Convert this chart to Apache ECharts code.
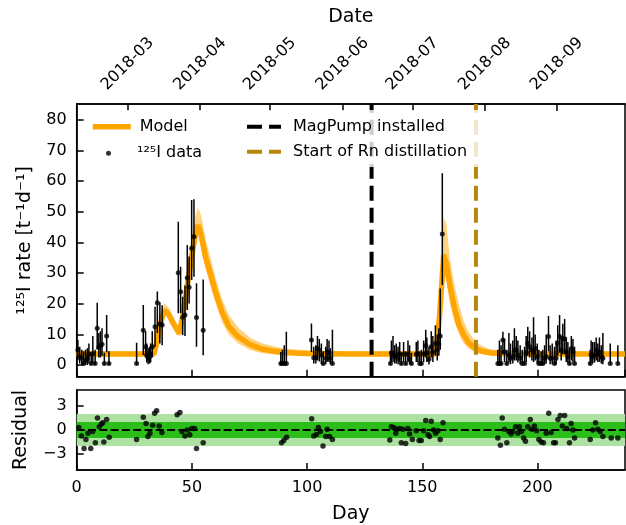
<!DOCTYPE html>
<html><head><meta charset="utf-8">
<script src="https://cdn.jsdelivr.net/npm/echarts@6/dist/echarts.min.js"></script>
<style>html,body{margin:0;padding:0;background:#fff}#c{width:626px;height:525px}</style>
</head><body><div id="c"></div>
<script>
// ---------- data ----------
const dayMin = 0, dayMax = 238;
const rateMin = -3.8, rateMax = 85.2;
const rateTicks = [0, 10, 20, 30, 40, 50, 60, 70, 80];
const residMin = -5, residMax = 5;
const residTicks = [-3, 0, 3];
const dateTickDays = [22.1, 53.6, 83.9, 115.4, 145.7, 177.2, 208.4];
const dateTickLabels = ['2018-03', '2018-04', '2018-05', '2018-06', '2018-07', '2018-08', '2018-09'];
const magPumpDay = 128;
const rnDistillDay = 173.3;

const modelDays = [0, 33.5, 34.5, 36, 38, 40, 42, 44.5, 46, 48, 50, 51.5, 52.7, 54, 56, 58, 60, 63, 66, 70, 75, 80, 85, 90, 95, 100, 110, 120, 130, 140, 150, 155.5, 156.5, 157.5, 158.5, 159.3, 160.5, 162, 164, 166, 168, 170, 173, 176, 180, 190, 200, 220, 238];
const modelVals = [3.6, 3.6, 6.5, 12.5, 18.0, 16.5, 13.5, 10.3, 16, 26, 36, 42.5, 45.7, 42.5, 35, 30, 24.5, 17.5, 12.6, 9.3, 6.8, 5.3, 4.6, 4.1, 3.9, 3.8, 3.7, 3.6, 3.6, 3.6, 3.6, 3.6, 8, 16, 27, 36, 33, 26, 18.5, 13, 9.8, 7.4, 5.4, 4.5, 3.9, 3.7, 3.6, 3.6, 3.6];
const bandLo = [2.9, 2.9, 5.6, 11.3, 16.6, 15.0, 12.1, 9.2, 14.0, 23.0, 32.0, 38.0, 42.4, 38.5, 31.0, 26.0, 20.8, 14.2, 10.0, 7.1, 5.0, 3.9, 3.5, 3.2, 3.1, 3.0, 2.9, 2.9, 2.9, 2.9, 2.9, 2.9, 6.4, 13.0, 22.0, 30.5, 27.5, 20.0, 14.0, 9.9, 7.0, 5.5, 4.0, 3.5, 3.2, 3.0, 2.9, 2.9, 2.9];
const bandHi = [4.4, 4.4, 7.6, 14.2, 20.2, 18.7, 15.6, 12.0, 18.6, 30.2, 41.6, 48.6, 51.4, 48.8, 41.0, 35.2, 29.2, 21.6, 16.4, 12.3, 9.1, 7.2, 6.2, 5.4, 5.1, 4.8, 4.5, 4.4, 4.4, 4.4, 4.4, 4.4, 10.2, 21.0, 36.0, 48.2, 46.0, 34.5, 26.0, 19.6, 14.2, 11.0, 7.7, 6.2, 5.1, 4.7, 4.4, 4.4, 4.4];

const dataDays = [0.5, 1.3, 2.2, 3.0, 3.8, 4.6, 5.3, 6.3, 7.0, 8.0, 8.9, 9.6, 10.3, 11.0, 12.0, 13.0, 14.0,
  26.0, 28.9, 29.9, 30.4, 31.0, 31.6, 32.1, 32.8, 34.0, 35.0, 36.1, 37.1,
  44.1, 45.1, 46.0, 47.0, 48.0, 48.8, 49.9, 50.9, 52.0, 54.9,
  88.6, 89.3, 90.1, 91.0,
  101.9, 102.9, 103.8, 104.5, 105.3, 106.2, 107.0, 108.1, 108.7, 109.5, 110.1, 111.0,
  136.2, 136.6, 137.3, 138.0, 138.7, 139.5, 140.2, 140.9, 141.9, 142.8, 143.8, 144.5, 145.3, 147.4, 148.1, 148.9, 149.6, 150.6, 151.5, 152.0, 152.9, 153.9, 154.6, 155.7, 156.5, 157.2, 157.8, 158.7,
  182.8, 183.5, 184.2, 185.0, 185.7, 186.7, 187.6, 188.3, 189.3, 190.0, 190.8, 191.5, 192.5, 193.4, 194.4, 195.1, 195.8, 196.6, 197.6, 198.3, 199.0, 199.9, 200.6, 201.6, 202.3, 203.1, 203.8, 204.8, 205.5, 206.4, 207.4, 208.1, 208.8, 209.6, 210.3, 211.0, 211.8, 212.5, 213.2, 213.9, 214.7, 215.4, 216.1, 222.9, 223.3, 224.0, 224.8, 225.5, 226.2, 226.9, 227.7, 228.4, 231.6, 234.9];
const dataVals = [5.0, 2.7, 2.2, 0.5, 1.5, 2.2, 3.6, 0.5, 3.8, 0.5, 12.0, 5.8, 6.3, 6.8, 0.5, 9.5, 0.5,
  0.5, 11.4, 6.0, 3.3, 2.2, 2.7, 3.6, 6.0, 12.5, 20.3, 13.4, 13.1,
  30.1, 23.9, 15.6, 16.3, 28.5, 25.4, 38.1, 41.9, 15.5, 11.4,
  0.5, 0.5, 0.5, 0.5,
  8.2, 2.4, 2.5, 5.4, 4.9, 3.3, 0.5, 2.2, 4.3, 4.0, 2.2, 0.5,
  0.5, 4.0, 3.7, 2.7, 3.2, 2.2, 3.7, 0.5, 3.5, 0.5, 3.5, 2.0, 0.5, 3.5, 3.5, 0.5, 0.5, 3.7, 6.4, 4.0, 1.9, 6.0, 4.3, 7.0, 5.0, 6.9, 9.5, 42.8,
  0.5, 0.5, 0.5, 8.2, 4.3, 0.5, 3.3, 2.2, 2.7, 4.9, 4.9, 3.3, 2.2, 0.5, 0.5, 4.0, 7.1, 6.0, 4.9, 4.3, 5.4, 2.7, 0.5, 0.5, 0.5, 2.2, 2.7, 9.3, 2.2, 2.2, 0.5, 2.2, 7.1, 9.3, 4.9, 8.6, 8.6, 4.3, 2.7, 0.5, 5.4, 4.3, 0.5, 0.5, 3.3, 2.7, 3.3, 4.9, 3.7, 4.3, 2.7, 2.2, 0.5, 0.5];
const dataLow = [1.6, 0.5, 0.3, 0, 0, 0, 0.5, 0, 0.5, 0, 5.1, 2.5, 2.5, 3.0, 0, 4.2, 0,
  0, 3.3, 2.5, 0.8, 0.3, 0.5, 0.8, 2.5, 6.0, 10.5, 7.0, 6.5,
  16.9, 16.9, 9.8, 9.5, 18.0, 20.1, 27.8, 28.8, 6.0, 3.2,
  0, 0, 0, 0,
  4.3, 0.5, 0.5, 1.5, 1.2, 0.5, 0, 0.3, 1.0, 1.0, 0.3, 0,
  0, 1.0, 1.0, 0.5, 0.5, 0.3, 1.0, 0, 1.0, 0, 1.0, 0.3, 0, 1.0, 1.0, 0, 0, 1.0, 2.5, 1.0, 0.2, 2.5, 1.0, 3.0, 1.5, 3.0, 5.0, 26.1,
  0, 0, 0, 3.5, 1.0, 0, 0.8, 0.3, 0.5, 1.5, 1.5, 0.8, 0.3, 0, 0, 1.0, 3.0, 2.5, 1.5, 1.0, 1.5, 0.5, 0, 0, 0, 0.3, 0.5, 4.5, 0.3, 0.3, 0, 0.3, 3.0, 4.0, 1.5, 3.5, 3.5, 1.0, 0.5, 0, 1.5, 1.0, 0, 0, 0.8, 0.5, 0.8, 1.5, 1.0, 1.0, 0.5, 0.3, 0, 0];
const dataHigh = [8.2, 6.0, 5.0, 4.5, 5.0, 5.5, 7.0, 4.0, 9.5, 5.0, 20.3, 10.5, 11.0, 12.0, 4.0, 16.3, 4.5,
  7.3, 19.6, 11.0, 7.0, 5.5, 6.0, 7.0, 11.0, 19.0, 24.0, 20.5, 19.5,
  46.8, 32.1, 22.3, 26.0, 39.2, 35.4, 53.9, 54.1, 26.7, 27.9,
  4.3, 5.0, 6.5, 10.9,
  13.6, 6.0, 6.5, 9.5, 8.5, 7.0, 4.5, 6.0, 8.5, 8.0, 5.5, 11.5,
  4.5, 8.0, 9.5, 6.5, 7.0, 6.0, 7.5, 4.0, 7.5, 4.5, 8.0, 6.5, 4.0, 7.5, 8.0, 4.5, 5.0, 8.0, 11.5, 9.0, 6.0, 11.0, 9.5, 13.0, 10.0, 12.0, 25.0, 62.6,
  5.0, 8.0, 6.5, 10.9, 8.5, 5.0, 10.5, 7.0, 8.0, 12.0, 9.5, 8.0, 6.5, 5.0, 6.0, 9.5, 12.5, 11.0, 9.0, 15.6, 10.0, 7.0, 5.0, 4.5, 5.0, 6.5, 10.0, 16.0, 6.5, 7.0, 6.0, 8.0, 13.0, 16.3, 9.5, 13.5, 15.0, 9.0, 7.5, 5.5, 9.5, 8.5, 6.0, 5.0, 8.0, 7.5, 7.5, 9.0, 7.0, 9.0, 6.5, 10.5, 7.0, 6.5];

const residDays = [0.9, 2.0, 3.2, 4.0, 4.9, 6.1, 6.9, 8.1, 9.0, 9.8, 10.7, 11.3, 11.8, 13.0, 14.1,
  26.0, 28.9, 30.1, 30.9, 31.8, 33.0, 33.8, 34.7, 35.8, 37.0,
  43.6, 44.8, 45.7, 47.0, 48.0, 49.1, 50.0, 51.2, 52.0, 54.9,
  88.9, 89.9, 91.1,
  102.0, 102.9, 104.1, 104.9, 105.8, 106.9, 108.1, 108.7, 109.8, 111.0,
  135.9, 136.6, 137.6, 138.5, 139.0, 140.2, 140.9, 141.6, 142.8, 143.8, 144.5, 145.7, 147.4, 148.6, 149.6, 150.6, 151.5, 152.5, 153.2, 153.9, 154.9, 155.8, 156.8, 157.8, 159.0,
  182.8, 183.9, 184.7, 185.7, 186.7, 187.6, 188.6, 189.3, 190.5, 191.5, 192.2, 193.1, 194.0, 194.8, 195.8, 196.9, 197.7, 198.7, 199.7, 200.6, 201.6, 202.6, 203.8, 204.9, 205.9, 207.0, 207.8, 208.9, 209.9, 210.8, 211.8, 212.7, 213.9, 214.6, 215.4, 216.1, 222.9, 224.0, 225.2, 226.2, 227.2, 228.4, 232.0, 234.9];
const residVals = [0.3, -0.75, -2.3, -1.2, -0.4, -2.3, -0.2, -1.6, 1.5, 0.4, 0.75, 0.9, -1.5, 1.3, -0.9,
  -1.2, 1.6, 0.8, -0.8, -0.4, 0.6, 2.1, 2.4, 0.5, -0.3,
  1.9, 2.2, -0.2, -0.75, 0, -0.6, 0.2, 0.2, -2.3, -1.6,
  -1.6, -1.3, -0.9,
  1.4, -0.75, -0.55, 0.3, -0.2, -2.0, -0.8, 0.1, -0.8, -1.2,
  -1.25, 0.4, 0.3, -0.4, 0.1, 0.2, -1.6, 0.1, -1.7, 0.2, -0.5, -1.2, -0.1, -1.3, -1.3, -0.1, 1.2, -0.6, -0.8, 1.1, 0, -0.4, -0.1, -1.2, 0.9,
  -1.0, -1.9, 1.5, 0.1, -1.6, -0.2, -0.5, -0.2, 0.4, -0.4, 0.4, -0.2, -1.0, -1.4, 0.4, 1.3, 0.1, 0.5, -0.1, -1.2, -1.5, -1.6, -0.4, 2.1, -0.3, -1.6, -1.6, 1.3, 1.8, 0.5, 1.8, 0.2, -1.6, 0.8, 0, -1.0, -1.2, 0, 0.9, 0.1, -0.2, -0.8, -1.0, -1.0];

// ---------- chart ----------
const FONT = 'DejaVu Sans';
const chart = echarts.init(document.getElementById('c'), null, {renderer: 'canvas'});
const axLine = {show: true, onZero: false, lineStyle: {color: '#000', width: 1.5}};
const tick = {show: true, inside: true, length: 7, lineStyle: {color: '#000', width: 1.5}};
const lbl = {color: '#000', fontFamily: FONT, fontSize: 16};
const GL = 76.7, GW = 548.3;
const legText = (pad) => ({color: '#000', fontFamily: FONT, fontSize: 16, lineHeight: 20, padding: [0, 0, 0, pad]});

const option = {
  animation: false,
  backgroundColor: '#fff',
  textStyle: {fontFamily: FONT},
  grid: [
    {left: GL, top: 104, width: GW, height: 272.7, show: true, borderColor: '#000', borderWidth: 1.5, backgroundColor: 'transparent'},
    {left: GL, top: 390, width: GW, height: 80, show: true, borderColor: '#000', borderWidth: 1.5, backgroundColor: 'transparent'}
  ],
  xAxis: [
    {gridIndex: 0, type: 'value', min: dayMin, max: dayMax, interval: 50, position: 'bottom',
     axisLine: axLine, axisTick: tick, axisLabel: {show: false}, splitLine: {show: false}},
    {gridIndex: 0, type: 'value', min: dayMin, max: dayMax, position: 'top',
     axisLine: axLine,
     axisTick: Object.assign({}, tick, {customValues: dateTickDays}),
     axisLabel: Object.assign({}, lbl, {customValues: dateTickDays, rotate: -45, margin: 40, align: 'center', verticalAlign: 'middle',
       formatter: v => { const i = dateTickDays.indexOf(v); return i >= 0 ? dateTickLabels[i] : ''; }}),
     splitLine: {show: false},
     name: 'Date', nameLocation: 'middle', nameGap: 77,
     nameTextStyle: {color: '#000', fontFamily: FONT, fontSize: 19}},
    {gridIndex: 1, type: 'value', min: dayMin, max: dayMax, interval: 50, position: 'bottom',
     axisLine: axLine, axisTick: tick,
     axisLabel: Object.assign({}, lbl, {margin: 10, showMaxLabel: false}),
     splitLine: {show: false},
     name: 'Day', nameLocation: 'middle', nameGap: 35,
     nameTextStyle: {color: '#000', fontFamily: FONT, fontSize: 19}}
  ],
  yAxis: [
    {gridIndex: 0, type: 'value', min: rateMin, max: rateMax,
     axisLine: axLine,
     axisTick: Object.assign({}, tick, {customValues: rateTicks}),
     axisLabel: Object.assign({}, lbl, {customValues: rateTicks, margin: 10}),
     splitLine: {show: false},
     name: '¹²⁵I rate [t⁻¹d⁻¹]', nameLocation: 'middle', nameGap: 42, nameRotate: 90,
     nameTextStyle: {color: '#000', fontFamily: FONT, fontSize: 19}},
    {gridIndex: 1, type: 'value', min: residMin, max: residMax,
     axisLine: axLine,
     axisTick: Object.assign({}, tick, {customValues: residTicks}),
     axisLabel: Object.assign({}, lbl, {customValues: residTicks, margin: 10,
       formatter: v => v < 0 ? '\u2212' + Math.abs(v) : String(v)}),
     splitLine: {show: false},
     name: 'Residual', nameLocation: 'middle', nameGap: 46, nameRotate: 90,
     nameTextStyle: {color: '#000', fontFamily: FONT, fontSize: 19}}
  ],
  legend: [
    {data: ['Model'], left: 90, top: 116.7, orient: 'vertical', padding: 0, itemWidth: 38, itemHeight: 6, z: 20,
     itemStyle: {opacity: 0}, lineStyle: {width: 5.5}, textStyle: legText(4)},
    {data: ['¹²⁵I data'], left: 106, top: 143.3, orient: 'vertical', padding: 0, itemWidth: 5, itemHeight: 5, icon: 'circle', z: 20,
     textStyle: legText(21)},
    {data: ['MagPump installed'], left: 245, top: 116.7, orient: 'vertical', padding: 0, itemWidth: 34, itemHeight: 6, z: 20,
     itemStyle: {opacity: 0}, lineStyle: {width: 4}, textStyle: legText(7)},
    {data: ['Start of Rn distillation'], left: 245, top: 141.7, orient: 'vertical', padding: 0, itemWidth: 34, itemHeight: 6, z: 20,
     itemStyle: {opacity: 0}, lineStyle: {width: 4}, textStyle: legText(7)}
  ],
  graphic: {elements: [
    {type: 'rect', left: 84, top: 110, shape: {width: 396, height: 57}, style: {fill: 'rgba(255,255,255,0.8)'}, z: 10, silent: true}
  ]},
  series: [
    {type: 'custom', name: 'band', xAxisIndex: 0, yAxisIndex: 0, z: 1, clip: true, silent: true,
     data: modelDays.map((d, i) => [d, bandLo[i], bandHi[i]]),
     encode: {x: 0, y: [1, 2]},
     renderItem: (params, api) => {
       if (params.dataIndex !== 0) return null;
       const pts = [];
       for (let i = 0; i < modelDays.length; i++) pts.push(api.coord([modelDays[i], bandHi[i]]));
       for (let i = modelDays.length - 1; i >= 0; i--) pts.push(api.coord([modelDays[i], bandLo[i]]));
       return {type: 'polygon', shape: {points: pts}, style: {fill: 'rgba(255,165,0,0.5)'}};
     }},
    {type: 'line', name: 'Model', xAxisIndex: 0, yAxisIndex: 0, z: 2, symbol: 'none', showSymbol: false,
     data: modelDays.map((d, i) => [d, modelVals[i]]),
     itemStyle: {color: '#FFA500'},
     lineStyle: {color: '#FFA500', width: 5.5}},
    {type: 'custom', name: 'errbars', xAxisIndex: 0, yAxisIndex: 0, z: 3, clip: true, silent: true,
     data: dataDays.map((d, i) => [d, dataLow[i], dataHigh[i]]),
     encode: {x: 0, y: [1, 2]},
     renderItem: (params, api) => {
       const p1 = api.coord([api.value(0), api.value(1)]);
       const p2 = api.coord([api.value(0), api.value(2)]);
       return {type: 'line', shape: {x1: p1[0], y1: p1[1], x2: p2[0], y2: p2[1]}, style: {stroke: '#000', lineWidth: 1.5}};
     }},
    {type: 'scatter', name: '¹²⁵I data', xAxisIndex: 0, yAxisIndex: 0, z: 4, symbol: 'circle', symbolSize: 5,
     data: dataDays.map((d, i) => [d, dataVals[i]]),
     itemStyle: {color: '#000'}},
    {type: 'line', name: 'MagPump installed', xAxisIndex: 0, yAxisIndex: 0, z: 5, symbol: 'none', clip: true,
     data: [[magPumpDay, rateMin], [magPumpDay, rateMax]],
     itemStyle: {color: '#000'},
     lineStyle: {color: '#000', width: 4, type: [15, 7]}},
    {type: 'line', name: 'Start of Rn distillation', xAxisIndex: 0, yAxisIndex: 0, z: 5, symbol: 'none', clip: true,
     data: [[rnDistillDay, rateMin], [rnDistillDay, rateMax]],
     itemStyle: {color: '#B8860B'},
     lineStyle: {color: '#B8860B', width: 4, type: [15, 7]}},
    {type: 'scatter', name: 'resid', xAxisIndex: 2, yAxisIndex: 1, z: 4, symbol: 'circle', symbolSize: 5.5,
     data: residDays.map((d, i) => [d, residVals[i]]),
     itemStyle: {color: '#000'},
     markArea: {silent: true, data: [
       [{yAxis: -2, itemStyle: {color: '#aee2a2'}}, {yAxis: 2}],
       [{yAxis: -1, itemStyle: {color: '#2bbd1a'}}, {yAxis: 1}]
     ]},
     markLine: {silent: true, symbol: 'none', label: {show: false},
       lineStyle: {color: '#000', width: 2, type: [8, 3.3]},
       data: [{yAxis: 0}]}}
  ]
};
chart.setOption(option);
</script>
</body></html>
